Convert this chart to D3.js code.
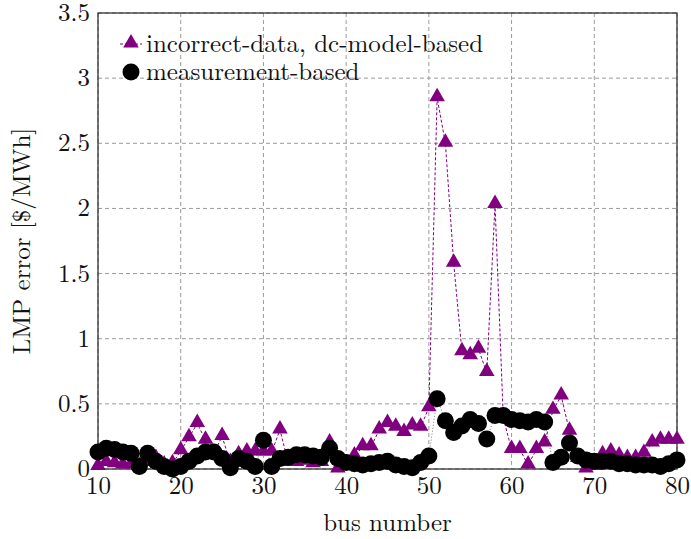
<!DOCTYPE html>
<html>
<head>
<meta charset="utf-8">
<script src="https://cdn.jsdelivr.net/npm/d3@7"></script>
<style>
  body { margin: 0; background: #fff; }
  svg text { font-family: "Latin Modern Roman", "Liberation Serif", serif; fill: #111; }
</style>
</head>
<body>
<svg id="graph"></svg>
<script>
// bus numbers 10..80
var buses = d3.range(10, 81);

var dcModel = [
  0.02, 0.05, 0.04, 0.03, 0.03, 0.02, 0.05, 0.08, 0.03, 0.04,
  0.14, 0.24, 0.35, 0.22, 0.12, 0.25, 0.05, 0.11, 0.13, 0.13,
  0.13, 0.13, 0.30, 0.05, 0.05, 0.06, 0.04, 0.05, 0.20, 0.00,
  0.03, 0.10, 0.17, 0.17, 0.30, 0.35, 0.32, 0.28, 0.33, 0.32,
  0.47, 2.85, 2.50, 1.58, 0.90, 0.87, 0.92, 0.74, 2.03, 0.39,
  0.15, 0.15, 0.03, 0.15, 0.20, 0.45, 0.56, 0.29, 0.08, 0.00,
  0.02, 0.11, 0.13, 0.10, 0.08, 0.08, 0.12, 0.20, 0.22, 0.22,
  0.22
];

var measured = [
  0.13, 0.16, 0.15, 0.13, 0.12, 0.02, 0.12, 0.06, 0.02, 0.00,
  0.02, 0.06, 0.10, 0.13, 0.13, 0.08, 0.01, 0.08, 0.06, 0.02,
  0.22, 0.02, 0.08, 0.09, 0.11, 0.11, 0.10, 0.09, 0.16, 0.08,
  0.05, 0.04, 0.03, 0.04, 0.05, 0.06, 0.03, 0.02, 0.01, 0.05,
  0.10, 0.54, 0.37, 0.28, 0.33, 0.38, 0.35, 0.23, 0.41, 0.41,
  0.38, 0.37, 0.36, 0.38, 0.36, 0.05, 0.09, 0.20, 0.10, 0.07,
  0.06, 0.06, 0.06, 0.04, 0.04, 0.03, 0.03, 0.03, 0.02, 0.04,
  0.07
];

var xTicks = [10, 20, 30, 40, 50, 60, 70, 80];
var yTicks = [0, 0.5, 1, 1.5, 2, 2.5, 3, 3.5];

var seriesNames = ["incorrect-data, dc-model-based", "measurement-based"];

var svg = d3.select("#graph")
    .attr("width", 691)
    .attr("height", 539);

var margin = {top: 13, right: 14, bottom: 70, left: 98},
    width = +svg.attr("width") - margin.left - margin.right,
    height = +svg.attr("height") - margin.top - margin.bottom;

var x = d3.scaleLinear().domain([10, 80]).range([0, width]),
    y = d3.scaleLinear().domain([0, 3.5]).range([height, 0]);

var fs = 25;

var g = svg.append("g")
    .attr("transform", "translate(" + margin.left + "," + margin.top + ")");

// grid
g.append("g")
  .selectAll("line")
  .data(xTicks)
  .enter().append("line")
    .attr("x1", function(d) { return x(d); })
    .attr("x2", function(d) { return x(d); })
    .attr("y1", 0)
    .attr("y2", height)
    .attr("stroke", "#9a9a9a")
    .attr("stroke-width", 1)
    .attr("stroke-dasharray", "4,3");

g.append("g")
  .selectAll("line")
  .data(yTicks)
  .enter().append("line")
    .attr("x1", 0)
    .attr("x2", width)
    .attr("y1", function(d) { return y(d); })
    .attr("y2", function(d) { return y(d); })
    .attr("stroke", "#9a9a9a")
    .attr("stroke-width", 1)
    .attr("stroke-dasharray", "4,3");

// axes
var xaxis = g.append("g")
    .attr("transform", "translate(0," + height + ")")
    .call(d3.axisBottom(x).tickValues(xTicks).tickSize(0).tickPadding(5));

var yaxis = g.append("g")
    .call(d3.axisLeft(y).tickValues(yTicks).tickSize(0).tickPadding(8)
      .tickFormat(function(d) { return d3.format("")(d); }));

[xaxis, yaxis].forEach(function(a) {
  a.select(".domain").remove();
  a.selectAll("text").attr("font-size", fs).attr("fill", "#111");
});
xaxis.selectAll("text").attr("dy", "0.8em");
yaxis.selectAll("text").attr("dy", "0.3em");

g.append("rect")
    .attr("width", width)
    .attr("height", height)
    .attr("fill", "none")
    .attr("stroke", "#222")
    .attr("stroke-width", 1.2);

// dashed line for dc-model series
var line = d3.line()
    .x(function(d, i) { return x(buses[i]); })
    .y(function(d) { return y(d); });

g.append("path")
    .datum(dcModel)
    .attr("d", line)
    .attr("fill", "none")
    .attr("stroke", "#800080")
    .attr("stroke-width", 1)
    .attr("stroke-dasharray", "3,2");

var tri = d3.symbol().type(d3.symbolTriangle).size(105);

g.append("g")
  .selectAll("path")
  .data(dcModel)
  .enter().append("path")
    .attr("d", tri)
    .attr("transform", function(d, i) { return "translate(" + x(buses[i]) + "," + (y(d) - 1) + ")"; })
    .attr("fill", "#800080");

// measurement series
g.append("path")
    .datum(measured)
    .attr("d", line)
    .attr("fill", "none")
    .attr("stroke", "#555")
    .attr("stroke-width", 0.8)
    .attr("stroke-dasharray", "1,2");

g.append("g")
  .selectAll("circle")
  .data(measured)
  .enter().append("circle")
    .attr("cx", function(d, i) { return x(buses[i]); })
    .attr("cy", function(d) { return y(d); })
    .attr("r", 8.5)
    .attr("fill", "#000");

// legend
var legend = g.append("g").attr("transform", "translate(22,31)");

legend.append("line")
    .attr("x1", 0).attr("x2", 22)
    .attr("y1", 0).attr("y2", 0)
    .attr("stroke", "#800080")
    .attr("stroke-width", 1)
    .attr("stroke-dasharray", "3,2");
legend.append("path")
    .attr("d", tri)
    .attr("transform", "translate(11,-1)")
    .attr("fill", "#800080");
legend.append("text")
    .attr("x", 26).attr("y", 0)
    .attr("dy", "0.3em")
    .attr("font-size", fs)
    .text(seriesNames[0]);

legend.append("circle")
    .attr("cx", 11).attr("cy", 28)
    .attr("r", 8.5)
    .attr("fill", "#000");
legend.append("text")
    .attr("x", 26).attr("y", 28)
    .attr("dy", "0.3em")
    .attr("font-size", fs)
    .text(seriesNames[1]);

// axis labels
svg.append("text")
    .attr("x", margin.left + width / 2)
    .attr("y", 531)
    .attr("text-anchor", "middle")
    .attr("font-size", fs)
    .text("bus number");

svg.append("text")
    .attr("transform", "translate(30," + (margin.top + height / 2) + ") rotate(-90)")
    .attr("text-anchor", "middle")
    .attr("font-size", fs)
    .text("LMP error [$/MWh]");
</script>
</body>
</html>
